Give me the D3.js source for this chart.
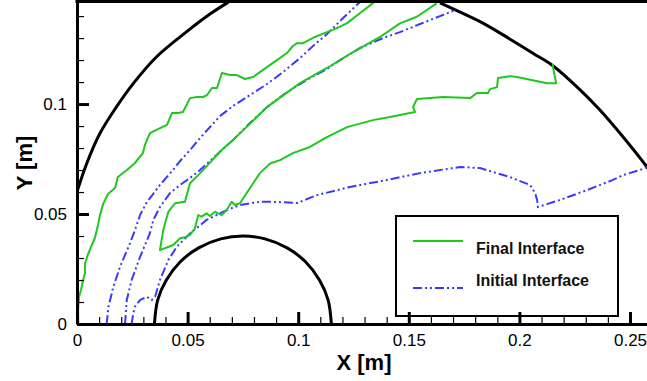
<!DOCTYPE html>
<html>
<head>
<meta charset="utf-8">
<script src="https://cdn.jsdelivr.net/npm/d3@7"></script>
<style>
  body { margin: 0; background: #fff; }
  svg { display: block; font-family: "Liberation Sans", Arial, sans-serif; }
</style>
</head>
<body>
<svg id="chart"></svg>
<script>
var width = 647;
var height = 381;

// axis ticks
var xTicks = [0, 0.05, 0.1, 0.15, 0.2, 0.25];
var yTicks = [0, 0.05, 0.1];
var xTickLabels = ["0", "0.05", "0.1", "0.15", "0.2", "0.25"];
var yTickLabels = ["0", "0.05", "0.1"];

// outer wall (big arc), cut by the top of the frame
var outerArcLeft = [[0, 0.0601], [0.0044, 0.0730], [0.0104, 0.0867], [0.0179, 0.0988], [0.0255, 0.1094],
  [0.0360, 0.1215], [0.0496, 0.1329], [0.0601, 0.1409], [0.0677, 0.1459], [0.0701, 0.1473]];
var outerArcRight = [[0.1641, 0.1460], [0.1732, 0.1418], [0.1837, 0.1367], [0.1958, 0.1295], [0.2063, 0.1230],
  [0.2153, 0.1173], [0.2259, 0.1079], [0.2364, 0.0973], [0.2455, 0.0867], [0.2576, 0.0715], [0.2600, 0.0682]];

// inner cylinder
var innerArc = [[0.035, 0], [0.0365, 0.011], [0.0404, 0.020], [0.0467, 0.0283], [0.055, 0.0346],
  [0.065, 0.0387], [0.075, 0.040], [0.085, 0.0387], [0.095, 0.0346], [0.1033, 0.0283],
  [0.1096, 0.020], [0.1135, 0.011], [0.115, 0]];

// Final Interface (green)
var finalOuter = [[0.0006, 0], [0.0005, 0.0064], [0.0009, 0.0123], [0.0018, 0.0155], [0.0028, 0.0200],
  [0.0036, 0.0232], [0.0036, 0.0273], [0.0050, 0.0318], [0.0063, 0.0350], [0.0081, 0.0391],
  [0.0095, 0.0450], [0.0104, 0.0495], [0.0118, 0.0545], [0.0140, 0.0591], [0.0172, 0.0618],
  [0.0185, 0.0668], [0.0226, 0.0700], [0.0262, 0.0732], [0.0298, 0.0777], [0.0307, 0.0814],
  [0.0330, 0.0868], [0.0366, 0.0886], [0.0407, 0.0905], [0.0429, 0.0959], [0.0457, 0.0959],
  [0.0479, 0.0964], [0.0511, 0.1027], [0.0542, 0.1032], [0.0570, 0.1032], [0.0588, 0.1041],
  [0.0610, 0.1073], [0.0633, 0.1073], [0.0655, 0.1141], [0.0692, 0.1132], [0.0723, 0.1132],
  [0.0759, 0.1114], [0.0796, 0.1123], [0.0827, 0.1145], [0.0859, 0.1168], [0.0904, 0.1200],
  [0.0949, 0.1232], [0.0976, 0.1264], [0.0995, 0.1277], [0.1022, 0.1277], [0.1076, 0.1305],
  [0.1130, 0.1327], [0.1175, 0.1345], [0.1221, 0.1368], [0.1280, 0.1414], [0.1338, 0.1459],
  [0.1352, 0.1473]];
var finalInner = [[0.1626, 0.1458], [0.1536, 0.1397], [0.1460, 0.1367], [0.1370, 0.1305], [0.1248, 0.1236],
  [0.1130, 0.1164], [0.1008, 0.1095], [0.0859, 0.0986], [0.0705, 0.0836], [0.0654, 0.0791],
  [0.0556, 0.0685], [0.0511, 0.0640], [0.0488, 0.0556], [0.0443, 0.0549], [0.0413, 0.0510],
  [0.0390, 0.0427], [0.0375, 0.0336], [0.0435, 0.0359], [0.0466, 0.0390], [0.0488, 0.0394],
  [0.0511, 0.0405], [0.0533, 0.0435], [0.0548, 0.0495], [0.0564, 0.0488], [0.0586, 0.0503],
  [0.0601, 0.0491], [0.0624, 0.0510], [0.0654, 0.0495], [0.0677, 0.0518], [0.0699, 0.0556],
  [0.0714, 0.0541], [0.0737, 0.0549], [0.0782, 0.0618], [0.0827, 0.0686], [0.0873, 0.0730],
  [0.0918, 0.0745], [0.0976, 0.0777], [0.1053, 0.0805], [0.1130, 0.0850], [0.1221, 0.0895],
  [0.1338, 0.0927], [0.1415, 0.0941], [0.1460, 0.0950], [0.1528, 0.0964], [0.1519, 0.0986],
  [0.1537, 0.1023], [0.1655, 0.1032], [0.1777, 0.1027], [0.1808, 0.1050], [0.1858, 0.1050],
  [0.1867, 0.1068], [0.1899, 0.1077], [0.1903, 0.1118], [0.1958, 0.1127], [0.1989, 0.1123],
  [0.2125, 0.1095], [0.2166, 0.1095], [0.2152, 0.1168], [0.2152, 0.1182]];

// Initial Interface (blue)
var initialA = [[0.0134, 0], [0.0142, 0.0077], [0.0164, 0.0168], [0.0194, 0.0259], [0.0240, 0.0368],
  [0.0262, 0.0427], [0.0285, 0.0495], [0.0316, 0.0555], [0.0344, 0.0591], [0.0375, 0.0632],
  [0.0434, 0.0700], [0.0466, 0.0741], [0.0511, 0.0791], [0.0556, 0.0845], [0.0646, 0.0945],
  [0.0705, 0.0991], [0.0782, 0.1041], [0.0859, 0.1091], [0.0931, 0.1145], [0.1008, 0.1209],
  [0.1067, 0.1264], [0.1130, 0.1318], [0.1203, 0.1391], [0.1279, 0.1464], [0.1288, 0.1473]];
var initialB = [[0.0217, 0], [0.0225, 0.0109], [0.0247, 0.0200], [0.0285, 0.0305], [0.0330, 0.0414],
  [0.0345, 0.0473], [0.0375, 0.0532], [0.0420, 0.0595], [0.0466, 0.0632], [0.0511, 0.0664],
  [0.0556, 0.0700], [0.0601, 0.0741], [0.0654, 0.0791], [0.0705, 0.0836], [0.0782, 0.0914],
  [0.0859, 0.0986], [0.0931, 0.1041], [0.1008, 0.1091], [0.1053, 0.1118], [0.1130, 0.1159],
  [0.1189, 0.1200], [0.1280, 0.1255], [0.1383, 0.1300], [0.1460, 0.1327], [0.1551, 0.1364],
  [0.1641, 0.1400], [0.1709, 0.1427]];
var initialC = [[0.0247, 0], [0.0253, 0.0041], [0.0262, 0.0079], [0.0285, 0.0109], [0.0315, 0.0124],
  [0.0338, 0.0109], [0.0353, 0.0124], [0.0375, 0.0200], [0.0398, 0.0255], [0.0413, 0.0291],
  [0.0451, 0.0351], [0.0511, 0.0412], [0.0586, 0.0473], [0.0677, 0.0518], [0.0737, 0.0541],
  [0.0827, 0.0556], [0.0904, 0.0555], [0.0995, 0.0550], [0.1085, 0.0586], [0.1234, 0.0623],
  [0.1401, 0.0655], [0.1551, 0.0686], [0.1732, 0.0714], [0.1822, 0.0709], [0.1957, 0.0668],
  [0.2048, 0.0632], [0.2071, 0.0595], [0.2080, 0.0564], [0.2084, 0.0532], [0.2125, 0.0545],
  [0.2184, 0.0564], [0.2306, 0.0609], [0.2423, 0.0655], [0.2468, 0.0677], [0.2545, 0.0700],
  [0.2577, 0.0714]];

var legendLabels = ["Final Interface", "Initial Interface"];

var green = "#1fc81f";
var blue = "#3a3aff";
var blueDash = "9,3,2,3,2,3";

var plotLeft = 77, plotBottom = 324, plotTop = 2;

var xScale = d3.scaleLinear().domain([0, 0.26]).range([plotLeft, plotLeft + 0.26 * 2212]);
var yScale = d3.scaleLinear().domain([0, 0.1464]).range([plotBottom, plotTop]);

var svg = d3.select("#chart").attr("width", width).attr("height", height);

svg.append("defs").append("clipPath").attr("id", "plotclip")
  .append("rect")
    .attr("x", plotLeft).attr("y", plotTop - 1)
    .attr("width", width - plotLeft).attr("height", plotBottom - plotTop + 1);

var line = d3.line()
  .x(d => xScale(d[0]))
  .y(d => yScale(d[1]));
var smooth = d3.line()
  .x(d => xScale(d[0]))
  .y(d => yScale(d[1]))
  .curve(d3.curveCatmullRom);

var plot = svg.append("g").attr("clip-path", "url(#plotclip)");

[outerArcLeft, outerArcRight, innerArc].forEach(function(arc) {
  plot.append("path")
    .attr("d", smooth(arc))
    .attr("fill", "none")
    .attr("stroke", "#000")
    .attr("stroke-width", 3);
});

[initialA, initialB, initialC].forEach(function(s) {
  plot.append("path")
    .attr("d", line(s))
    .attr("fill", "none")
    .attr("stroke", blue)
    .attr("stroke-width", 2)
    .attr("stroke-dasharray", blueDash);
});

[finalOuter, finalInner].forEach(function(s) {
  plot.append("path")
    .attr("d", line(s))
    .attr("fill", "none")
    .attr("stroke", green)
    .attr("stroke-width", 2)
    .attr("stroke-linejoin", "round");
});

// legend
var legend = svg.append("g");
legend.append("rect")
  .attr("x", 396).attr("y", 216)
  .attr("width", 222).attr("height", 100)
  .attr("fill", "#fff")
  .attr("stroke", "#000")
  .attr("stroke-width", 2);
var legendRows = [
  {label: legendLabels[0], color: green, dash: null, ly: 241, ty: 254},
  {label: legendLabels[1], color: blue, dash: blueDash, ly: 288, ty: 286}
];
legendRows.forEach(function(r) {
  legend.append("line")
    .attr("x1", 413).attr("x2", 463)
    .attr("y1", r.ly).attr("y2", r.ly)
    .attr("stroke", r.color)
    .attr("stroke-width", 2)
    .attr("stroke-dasharray", r.dash);
  legend.append("text")
    .attr("x", 476).attr("y", r.ty)
    .attr("font-size", 16)
    .attr("font-weight", "bold")
    .attr("fill", "#111")
    .text(r.label);
});

// top frame
svg.append("line")
  .attr("x1", plotLeft - 1.5).attr("x2", width)
  .attr("y1", 1.5).attr("y2", 1.5)
  .attr("stroke", "#000").attr("stroke-width", 3);

// minor ticks
var xMinor = d3.axisBottom(xScale)
  .tickValues(d3.range(0.01, 0.26, 0.01))
  .tickSize(-7).tickSizeOuter(0).tickFormat("");
var yMinor = d3.axisLeft(yScale)
  .tickValues(d3.range(0.01, 0.145, 0.01))
  .tickSize(-7).tickSizeOuter(0).tickFormat("");

svg.append("g").attr("transform", "translate(0," + plotBottom + ")").call(xMinor)
  .call(g => g.select(".domain").remove())
  .selectAll("line").attr("stroke-width", 1.2);
svg.append("g").attr("transform", "translate(" + plotLeft + ",0)").call(yMinor)
  .call(g => g.select(".domain").remove())
  .selectAll("line").attr("stroke-width", 1.2);

// major ticks
var xAxis = d3.axisBottom(xScale)
  .tickValues(xTicks)
  .tickFormat((d, i) => xTickLabels[i])
  .tickSize(-12).tickSizeOuter(0).tickPadding(10);
var yAxis = d3.axisLeft(yScale)
  .tickValues(yTicks)
  .tickFormat((d, i) => yTickLabels[i])
  .tickSize(-12).tickSizeOuter(0).tickPadding(10);

var gx = svg.append("g").attr("transform", "translate(0," + plotBottom + ")").call(xAxis);
gx.select(".domain").attr("stroke-width", 3);
gx.selectAll(".tick line").attr("stroke-width", 3);
gx.selectAll(".tick text")
  .attr("font-size", 17).attr("fill", "#000")
  .attr("font-family", "Liberation Sans, Arial, sans-serif")
  .attr("y", 22).attr("dy", 0);

var gy = svg.append("g").attr("transform", "translate(" + plotLeft + ",0)").call(yAxis);
gy.select(".domain").attr("stroke-width", 3);
gy.selectAll(".tick line").attr("stroke-width", 3);
gy.selectAll(".tick text")
  .attr("font-size", 17).attr("fill", "#000")
  .attr("font-family", "Liberation Sans, Arial, sans-serif");

// axis titles
svg.append("text")
  .attr("x", 364).attr("y", 370)
  .attr("text-anchor", "middle")
  .attr("font-size", 22).attr("font-weight", "bold")
  .text("X [m]");
svg.append("text")
  .attr("transform", "translate(32,163) rotate(-90)")
  .attr("text-anchor", "middle")
  .attr("font-size", 22).attr("font-weight", "bold")
  .text("Y [m]");
</script>
</body>
</html>
